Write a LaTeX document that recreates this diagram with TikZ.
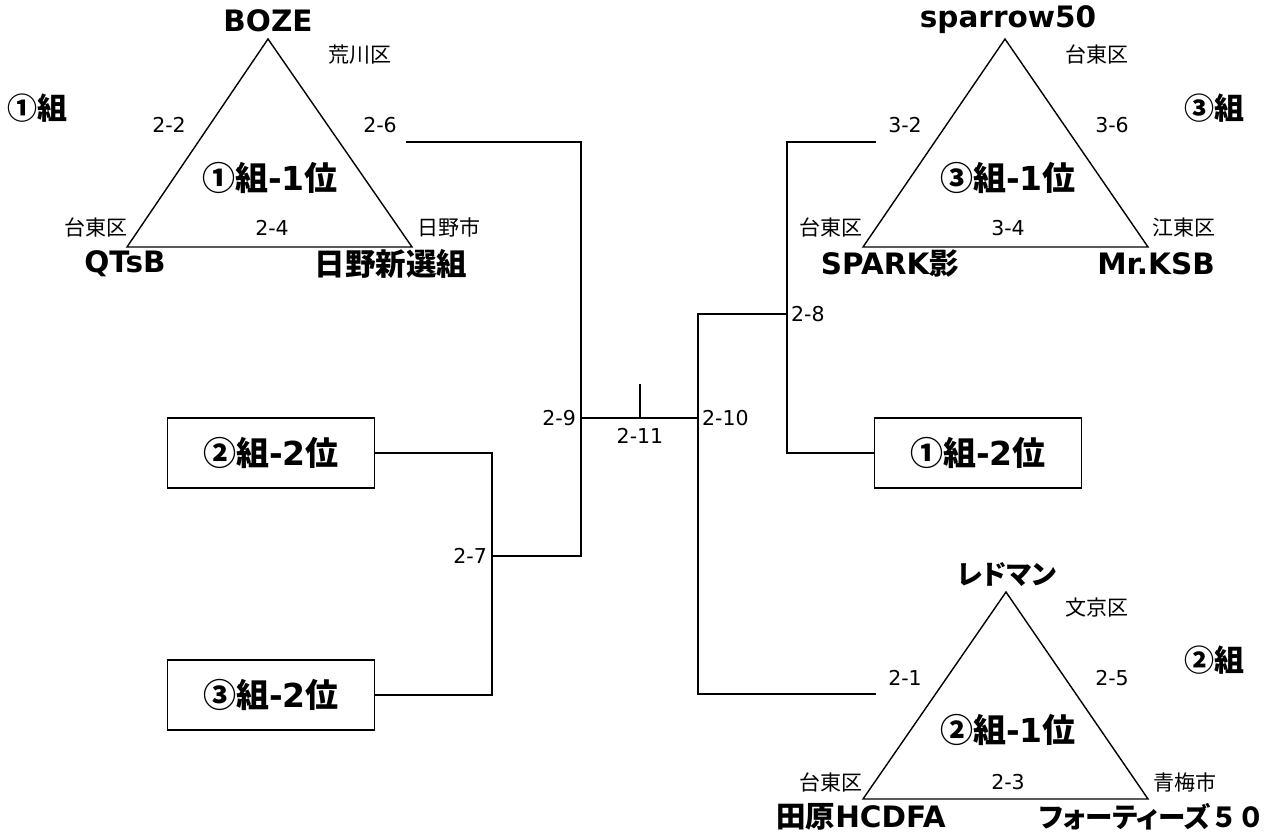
\documentclass[tikz,border=0pt]{standalone}
\usepackage{fontspec}
\setmainfont{DejaVu Sans}
\newfontfamily\jp{Noto Sans CJK JP}
\newfontfamily\jpp[RawFeature=+palt]{Noto Sans CJK JP}
\tikzset{
  x=1pt, y=-1pt,
  conn/.style={line width=1.5pt, black},
  tri/.style={line width=1.4pt, black, line join=miter},
  team/.style={font=\fontsize{29.5}{31}\selectfont\bfseries, inner sep=0pt},
  grp/.style={font=\fontsize{30}{32}\selectfont\bfseries, inner sep=0pt},
  rank/.style={font=\fontsize{33}{35}\selectfont\bfseries, inner sep=0pt},
  small/.style={font=\fontsize{20.5}{22}\selectfont, inner sep=0pt},
  area/.style={font=\jp\fontsize{21}{23}\selectfont, inner sep=0pt},
  rankbox/.style={draw, line width=1.5pt, minimum width=207pt, minimum height=70pt, inner sep=0pt, font=\fontsize{33}{35}\selectfont\bfseries}
}
\begin{document}
\begin{tikzpicture}
\useasboundingbox (0,0) rectangle (1280,834);

% ---------- group 1 triangle ----------
\coordinate (t1a) at (268,39);
\coordinate (t1b) at (127,247);
\coordinate (t1c) at (412,247);
\draw[tri] (t1a) -- (t1b) -- (t1c) -- cycle;
\node[team] (boze) at (268,21) {BOZE};
\node[area] (arakawa) at (360,55) {荒川区};
\node[grp] (g1) at (38,108) {{\jp ①組}};
\node[small] (l22) at (169,125) {2-2};
\node[small] (l26) at (380,125) {2-6};
\node[rank] (r11) at (270,178) {{\jp ①組}-1{\jp 位}};
\node[area] (taito1) at (96,228) {台東区};
\node[small] (l24) at (272,228) {2-4};
\node[area] (hino) at (449,228) {日野市};
\node[team] (qtsb) at (125,264) {QTsB};
\node[team] (hinoshin) at (391,264) {{\jp\fontsize{30.5}{32}\selectfont 日野新選組}};

% ---------- group 3 triangle ----------
\coordinate (t3a) at (1005,39);
\coordinate (t3b) at (863,247);
\coordinate (t3c) at (1148,247);
\draw[tri] (t3a) -- (t3b) -- (t3c) -- cycle;
\node[team] (sparrow) at (1008,20) {sparrow50};
\node[area] (taito3a) at (1097,55) {台東区};
\node[grp] (g3) at (1214,108) {{\jp ③組}};
\node[small] (l32) at (905,125) {3-2};
\node[small] (l36) at (1112,125) {3-6};
\node[rank] (r31) at (1008,178) {{\jp ③組}-1{\jp 位}};
\node[area] (taito3b) at (831,228) {台東区};
\node[small] (l34) at (1008,228) {3-4};
\node[area] (koto) at (1184,228) {江東区};
\node[team] (spark) at (890,264) {SPARK{\jp 影}};
\node[team] (mrksb) at (1156,264) {Mr.KSB};

% ---------- group 2 triangle ----------
\coordinate (t2a) at (1006,592);
\coordinate (t2b) at (863,799);
\coordinate (t2c) at (1148,799);
\draw[tri] (t2a) -- (t2b) -- (t2c) -- cycle;
\node[team] (redman) at (1007,575) {{\jpp\fontsize{27}{29}\selectfont レドマン}};
\node[area] (bunkyo) at (1097,608) {文京区};
\node[grp] (g2) at (1214,660) {{\jp ②組}};
\node[small] (l21) at (905,678) {2-1};
\node[small] (l25) at (1112,678) {2-5};
\node[rank] (r21) at (1008,730) {{\jp ②組}-1{\jp 位}};
\node[area] (taito2) at (831,782) {台東区};
\node[small] (l23) at (1008,782) {2-3};
\node[area] (ome) at (1185,782) {青梅市};
\node[team] (tahara) at (861,817) {{\jp 田原}HCDFA};
\node[team] (forties) at (1152,817) {{\jpp\fontsize{27.5}{29}\selectfont フォーティーズ}{\jp\fontsize{27.5}{29}\selectfont ５０}};

% ---------- boxes ----------
\node[rankbox] (b22) at (271,453) {{\jp ②組}-2{\jp 位}};
\node[rankbox] (b32) at (271,695) {{\jp ③組}-2{\jp 位}};
\node[rankbox] (b12) at (978,453) {{\jp ①組}-2{\jp 位}};

% ---------- bracket points ----------
\coordinate (a26) at (406,142);
\coordinate (a32) at (876,142);
\coordinate (a21) at (876,694);
\coordinate (m9) at (581,418);
\coordinate (m10) at (698,418);
\coordinate (m11) at (640,418);
\coordinate (top11) at (640,384);
\coordinate (m7) at (492,556);
\coordinate (m8) at (787,314);

\draw[conn] (a26) -| (m9) |- (m7);
\draw[conn] (b22.east) -| (m7) |- (b32.east);
\draw[conn] (m9) -- (m10);
\draw[conn] (m11) -- (top11);
\draw[conn] (a21) -| (m10) |- (m8);
\draw[conn] (a32) -| (m8) |- (b12.west);

% ---------- bracket labels ----------
\node[small, anchor=east] (l29) at (576,418) {2-9};
\node[small] (l211) at (640,436) {2-11};
\node[small, anchor=west] (l210) at (702,418) {2-10};
\node[small, anchor=west] (l28) at (791,314) {2-8};
\node[small, anchor=east] (l27) at (487,556) {2-7};
\end{tikzpicture}
\end{document}
